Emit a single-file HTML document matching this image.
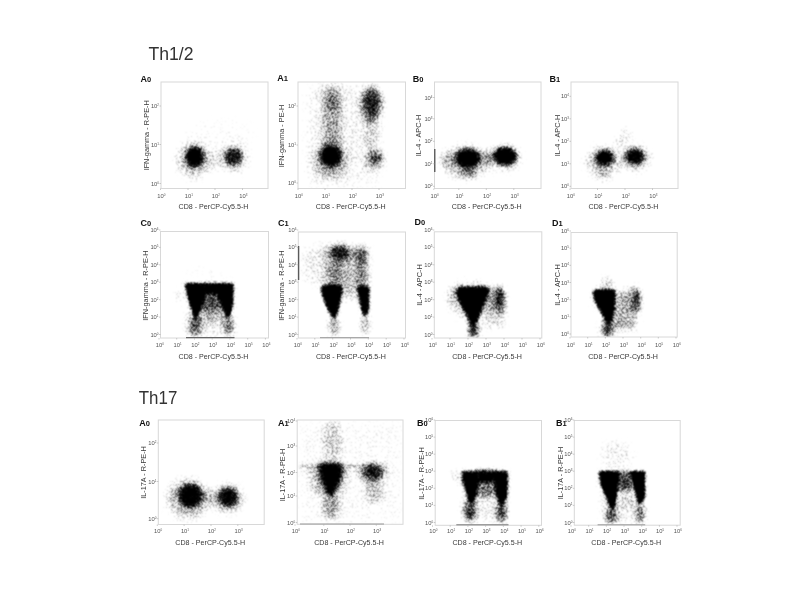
<!DOCTYPE html>
<html><head><meta charset="utf-8"><title>Th1/2 and Th17 flow cytometry</title>
<style>html,body{margin:0;padding:0;background:#fff;}svg{display:block;will-change:transform}</style></head>
<body><svg width="800" height="600" viewBox="0 0 800 600">
<defs><filter id="b05" x="-1" y="-1" width="3" height="3"><feGaussianBlur stdDeviation="0.5"/></filter><filter id="b1" x="-1" y="-1" width="3" height="3"><feGaussianBlur stdDeviation="1"/></filter><filter id="b15" x="-1" y="-1" width="3" height="3"><feGaussianBlur stdDeviation="1.5"/></filter><filter id="b2" x="-1" y="-1" width="3" height="3"><feGaussianBlur stdDeviation="2"/></filter><filter id="b25" x="-1" y="-1" width="3" height="3"><feGaussianBlur stdDeviation="2.5"/></filter><filter id="b3" x="-1" y="-1" width="3" height="3"><feGaussianBlur stdDeviation="3"/></filter><filter id="b4" x="-1" y="-1" width="3" height="3"><feGaussianBlur stdDeviation="4"/></filter><filter id="b5" x="-1" y="-1" width="3" height="3"><feGaussianBlur stdDeviation="5"/></filter><filter id="b6" x="-1" y="-1" width="3" height="3"><feGaussianBlur stdDeviation="6"/></filter><filter id="b8" x="-1" y="-1" width="3" height="3"><feGaussianBlur stdDeviation="8"/></filter><filter id="st0" x="161.5" y="82.5" width="106.0" height="105.5" filterUnits="userSpaceOnUse" color-interpolation-filters="sRGB"><feTurbulence type="fractalNoise" baseFrequency="0.8" numOctaves="2" seed="2" result="t"/><feColorMatrix in="t" type="matrix" values="0 0 0 0 0 0 0 0 0 0 0 0 0 0 0 1 0 0 0 0" result="n"/><feComponentTransfer in="n" result="nu"><feFuncA type="table" tableValues="0 0 0 0 0.003 0.013 0.046 0.110 0.209 0.328 0.476 0.673 0.801 0.888 0.952 0.985 0.996 1 1 1 1"/></feComponentTransfer><feComposite in="SourceAlpha" in2="nu" operator="arithmetic" k1="0" k2="1.85" k3="-1" k4="0" result="x"/><feComponentTransfer in="x" result="y"><feFuncA type="linear" slope="1.25" intercept="0"/></feComponentTransfer><feConvolveMatrix in="y" order="3" kernelMatrix="1 2 1 2 5 2 1 2 1" edgeMode="none"/></filter><filter id="st1" x="298.5" y="82.5" width="106.5" height="105.5" filterUnits="userSpaceOnUse" color-interpolation-filters="sRGB"><feTurbulence type="fractalNoise" baseFrequency="0.8" numOctaves="2" seed="3" result="t"/><feColorMatrix in="t" type="matrix" values="0 0 0 0 0 0 0 0 0 0 0 0 0 0 0 1 0 0 0 0" result="n"/><feComponentTransfer in="n" result="nu"><feFuncA type="table" tableValues="0 0 0 0 0.003 0.013 0.046 0.110 0.209 0.328 0.476 0.673 0.801 0.888 0.952 0.985 0.996 1 1 1 1"/></feComponentTransfer><feComposite in="SourceAlpha" in2="nu" operator="arithmetic" k1="0" k2="1.85" k3="-1" k4="0" result="x"/><feComponentTransfer in="x" result="y"><feFuncA type="linear" slope="1.25" intercept="0"/></feComponentTransfer><feConvolveMatrix in="y" order="3" kernelMatrix="1 2 1 2 5 2 1 2 1" edgeMode="none"/></filter><filter id="st2" x="435.0" y="82.5" width="105.5" height="105.5" filterUnits="userSpaceOnUse" color-interpolation-filters="sRGB"><feTurbulence type="fractalNoise" baseFrequency="0.8" numOctaves="2" seed="4" result="t"/><feColorMatrix in="t" type="matrix" values="0 0 0 0 0 0 0 0 0 0 0 0 0 0 0 1 0 0 0 0" result="n"/><feComponentTransfer in="n" result="nu"><feFuncA type="table" tableValues="0 0 0 0 0.003 0.013 0.046 0.110 0.209 0.328 0.476 0.673 0.801 0.888 0.952 0.985 0.996 1 1 1 1"/></feComponentTransfer><feComposite in="SourceAlpha" in2="nu" operator="arithmetic" k1="0" k2="1.85" k3="-1" k4="0" result="x"/><feComponentTransfer in="x" result="y"><feFuncA type="linear" slope="1.25" intercept="0"/></feComponentTransfer><feConvolveMatrix in="y" order="3" kernelMatrix="1 2 1 2 5 2 1 2 1" edgeMode="none"/></filter><filter id="st3" x="571.5" y="82.5" width="106.0" height="105.5" filterUnits="userSpaceOnUse" color-interpolation-filters="sRGB"><feTurbulence type="fractalNoise" baseFrequency="0.8" numOctaves="2" seed="5" result="t"/><feColorMatrix in="t" type="matrix" values="0 0 0 0 0 0 0 0 0 0 0 0 0 0 0 1 0 0 0 0" result="n"/><feComponentTransfer in="n" result="nu"><feFuncA type="table" tableValues="0 0 0 0 0.003 0.013 0.046 0.110 0.209 0.328 0.476 0.673 0.801 0.888 0.952 0.985 0.996 1 1 1 1"/></feComponentTransfer><feComposite in="SourceAlpha" in2="nu" operator="arithmetic" k1="0" k2="1.85" k3="-1" k4="0" result="x"/><feComponentTransfer in="x" result="y"><feFuncA type="linear" slope="1.25" intercept="0"/></feComponentTransfer><feConvolveMatrix in="y" order="3" kernelMatrix="1 2 1 2 5 2 1 2 1" edgeMode="none"/></filter><filter id="st4" x="161.0" y="232.0" width="107.0" height="105.5" filterUnits="userSpaceOnUse" color-interpolation-filters="sRGB"><feTurbulence type="fractalNoise" baseFrequency="0.8" numOctaves="2" seed="6" result="t"/><feColorMatrix in="t" type="matrix" values="0 0 0 0 0 0 0 0 0 0 0 0 0 0 0 1 0 0 0 0" result="n"/><feComponentTransfer in="n" result="nu"><feFuncA type="table" tableValues="0 0 0 0 0.003 0.013 0.046 0.110 0.209 0.328 0.476 0.673 0.801 0.888 0.952 0.985 0.996 1 1 1 1"/></feComponentTransfer><feComposite in="SourceAlpha" in2="nu" operator="arithmetic" k1="0" k2="1.85" k3="-1" k4="0" result="x"/><feComponentTransfer in="x" result="y"><feFuncA type="linear" slope="1.25" intercept="0"/></feComponentTransfer><feConvolveMatrix in="y" order="3" kernelMatrix="1 2 1 2 5 2 1 2 1" edgeMode="none"/></filter><filter id="st5" x="298.8" y="232.5" width="106.19999999999999" height="105.0" filterUnits="userSpaceOnUse" color-interpolation-filters="sRGB"><feTurbulence type="fractalNoise" baseFrequency="0.8" numOctaves="2" seed="7" result="t"/><feColorMatrix in="t" type="matrix" values="0 0 0 0 0 0 0 0 0 0 0 0 0 0 0 1 0 0 0 0" result="n"/><feComponentTransfer in="n" result="nu"><feFuncA type="table" tableValues="0 0 0 0 0.003 0.013 0.046 0.110 0.209 0.328 0.476 0.673 0.801 0.888 0.952 0.985 0.996 1 1 1 1"/></feComponentTransfer><feComposite in="SourceAlpha" in2="nu" operator="arithmetic" k1="0" k2="1.85" k3="-1" k4="0" result="x"/><feComponentTransfer in="x" result="y"><feFuncA type="linear" slope="1.25" intercept="0"/></feComponentTransfer><feConvolveMatrix in="y" order="3" kernelMatrix="1 2 1 2 5 2 1 2 1" edgeMode="none"/></filter><filter id="st6" x="434.8" y="232.3" width="106.49999999999994" height="105.19999999999999" filterUnits="userSpaceOnUse" color-interpolation-filters="sRGB"><feTurbulence type="fractalNoise" baseFrequency="0.8" numOctaves="2" seed="8" result="t"/><feColorMatrix in="t" type="matrix" values="0 0 0 0 0 0 0 0 0 0 0 0 0 0 0 1 0 0 0 0" result="n"/><feComponentTransfer in="n" result="nu"><feFuncA type="table" tableValues="0 0 0 0 0.003 0.013 0.046 0.110 0.209 0.328 0.476 0.673 0.801 0.888 0.952 0.985 0.996 1 1 1 1"/></feComponentTransfer><feComposite in="SourceAlpha" in2="nu" operator="arithmetic" k1="0" k2="1.85" k3="-1" k4="0" result="x"/><feComponentTransfer in="x" result="y"><feFuncA type="linear" slope="1.25" intercept="0"/></feComponentTransfer><feConvolveMatrix in="y" order="3" kernelMatrix="1 2 1 2 5 2 1 2 1" edgeMode="none"/></filter><filter id="st7" x="571.5" y="233.0" width="105.20000000000005" height="103.5" filterUnits="userSpaceOnUse" color-interpolation-filters="sRGB"><feTurbulence type="fractalNoise" baseFrequency="0.8" numOctaves="2" seed="9" result="t"/><feColorMatrix in="t" type="matrix" values="0 0 0 0 0 0 0 0 0 0 0 0 0 0 0 1 0 0 0 0" result="n"/><feComponentTransfer in="n" result="nu"><feFuncA type="table" tableValues="0 0 0 0 0.003 0.013 0.046 0.110 0.209 0.328 0.476 0.673 0.801 0.888 0.952 0.985 0.996 1 1 1 1"/></feComponentTransfer><feComposite in="SourceAlpha" in2="nu" operator="arithmetic" k1="0" k2="1.85" k3="-1" k4="0" result="x"/><feComponentTransfer in="x" result="y"><feFuncA type="linear" slope="1.25" intercept="0"/></feComponentTransfer><feConvolveMatrix in="y" order="3" kernelMatrix="1 2 1 2 5 2 1 2 1" edgeMode="none"/></filter><filter id="st8" x="158.8" y="420.5" width="104.89999999999998" height="103.5" filterUnits="userSpaceOnUse" color-interpolation-filters="sRGB"><feTurbulence type="fractalNoise" baseFrequency="0.8" numOctaves="2" seed="10" result="t"/><feColorMatrix in="t" type="matrix" values="0 0 0 0 0 0 0 0 0 0 0 0 0 0 0 1 0 0 0 0" result="n"/><feComponentTransfer in="n" result="nu"><feFuncA type="table" tableValues="0 0 0 0 0.003 0.013 0.046 0.110 0.209 0.328 0.476 0.673 0.801 0.888 0.952 0.985 0.996 1 1 1 1"/></feComponentTransfer><feComposite in="SourceAlpha" in2="nu" operator="arithmetic" k1="0" k2="1.85" k3="-1" k4="0" result="x"/><feComponentTransfer in="x" result="y"><feFuncA type="linear" slope="1.25" intercept="0"/></feComponentTransfer><feConvolveMatrix in="y" order="3" kernelMatrix="1 2 1 2 5 2 1 2 1" edgeMode="none"/></filter><filter id="st9" x="297.7" y="420.5" width="104.80000000000001" height="103.29999999999995" filterUnits="userSpaceOnUse" color-interpolation-filters="sRGB"><feTurbulence type="fractalNoise" baseFrequency="0.8" numOctaves="2" seed="11" result="t"/><feColorMatrix in="t" type="matrix" values="0 0 0 0 0 0 0 0 0 0 0 0 0 0 0 1 0 0 0 0" result="n"/><feComponentTransfer in="n" result="nu"><feFuncA type="table" tableValues="0 0 0 0 0.003 0.013 0.046 0.110 0.209 0.328 0.476 0.673 0.801 0.888 0.952 0.985 0.996 1 1 1 1"/></feComponentTransfer><feComposite in="SourceAlpha" in2="nu" operator="arithmetic" k1="0" k2="1.85" k3="-1" k4="0" result="x"/><feComponentTransfer in="x" result="y"><feFuncA type="linear" slope="1.25" intercept="0"/></feComponentTransfer><feConvolveMatrix in="y" order="3" kernelMatrix="1 2 1 2 5 2 1 2 1" edgeMode="none"/></filter><filter id="st10" x="435.7" y="421.0" width="105.30000000000001" height="103.79999999999995" filterUnits="userSpaceOnUse" color-interpolation-filters="sRGB"><feTurbulence type="fractalNoise" baseFrequency="0.8" numOctaves="2" seed="12" result="t"/><feColorMatrix in="t" type="matrix" values="0 0 0 0 0 0 0 0 0 0 0 0 0 0 0 1 0 0 0 0" result="n"/><feComponentTransfer in="n" result="nu"><feFuncA type="table" tableValues="0 0 0 0 0.003 0.013 0.046 0.110 0.209 0.328 0.476 0.673 0.801 0.888 0.952 0.985 0.996 1 1 1 1"/></feComponentTransfer><feComposite in="SourceAlpha" in2="nu" operator="arithmetic" k1="0" k2="1.85" k3="-1" k4="0" result="x"/><feComponentTransfer in="x" result="y"><feFuncA type="linear" slope="1.25" intercept="0"/></feComponentTransfer><feConvolveMatrix in="y" order="3" kernelMatrix="1 2 1 2 5 2 1 2 1" edgeMode="none"/></filter><filter id="st11" x="574.8" y="421.0" width="104.90000000000009" height="103.70000000000005" filterUnits="userSpaceOnUse" color-interpolation-filters="sRGB"><feTurbulence type="fractalNoise" baseFrequency="0.8" numOctaves="2" seed="13" result="t"/><feColorMatrix in="t" type="matrix" values="0 0 0 0 0 0 0 0 0 0 0 0 0 0 0 1 0 0 0 0" result="n"/><feComponentTransfer in="n" result="nu"><feFuncA type="table" tableValues="0 0 0 0 0.003 0.013 0.046 0.110 0.209 0.328 0.476 0.673 0.801 0.888 0.952 0.985 0.996 1 1 1 1"/></feComponentTransfer><feComposite in="SourceAlpha" in2="nu" operator="arithmetic" k1="0" k2="1.85" k3="-1" k4="0" result="x"/><feComponentTransfer in="x" result="y"><feFuncA type="linear" slope="1.25" intercept="0"/></feComponentTransfer><feConvolveMatrix in="y" order="3" kernelMatrix="1 2 1 2 5 2 1 2 1" edgeMode="none"/></filter></defs>
<rect width="800" height="600" fill="#fff"/>
<text x="148.5" y="60" font-family="Liberation Sans, Arial, sans-serif" font-size="18" fill="#333" textLength="45" lengthAdjust="spacingAndGlyphs">Th1/2</text><text x="138.8" y="404" font-family="Liberation Sans, Arial, sans-serif" font-size="17.5" fill="#333" textLength="38.5" lengthAdjust="spacingAndGlyphs">Th17</text>
<g filter="url(#st0)"><ellipse cx="220" cy="135" rx="35" ry="16" fill-opacity="0.05" filter="url(#b5)"/><ellipse cx="193.5" cy="160" rx="17" ry="18" fill-opacity="0.3" filter="url(#b4)"/><ellipse cx="194.5" cy="157" rx="9" ry="10.5" fill-opacity="0.95" filter="url(#b2)"/><ellipse cx="234" cy="158" rx="14" ry="14" fill-opacity="0.3" filter="url(#b4)"/><ellipse cx="233.5" cy="157" rx="8.5" ry="8.5" fill-opacity="0.68" filter="url(#b2)"/><ellipse cx="214" cy="160" rx="12" ry="9" fill-opacity="0.15" filter="url(#b4)"/></g>
<rect x="161" y="82" width="107" height="106.5" fill="none" stroke="#d8d8d8" stroke-width="1"/>
<path d="M160.5 188.5v1.5 M188.0 188.5v1.5 M215.0 188.5v1.5 M242.5 188.5v1.5 M161 106.0h-1.5 M161 144.5h-1.5 M161 183.5h-1.5" stroke="#aaa" stroke-width="0.6" fill="none"/>
<text x="140.5" y="81.5" font-family="Liberation Sans, Arial, sans-serif" font-weight="bold" font-size="9" fill="#111">A<tspan font-size="7.5" font-weight="bold">0</tspan></text>
<text transform="translate(146.5 135.3) rotate(-90)" x="0" y="2.6" text-anchor="middle" font-family="Liberation Sans, Arial, sans-serif" font-size="7.3" fill="#383838">IFN-gamma - R-PE-H</text>
<text x="213.5" y="209" text-anchor="middle" font-family="Liberation Sans, Arial, sans-serif" font-size="7.1" fill="#383838">CD8 - PerCP-Cy5.5-H</text>
<text x="157.3" y="197.8" font-family="Liberation Sans, Arial, sans-serif" font-size="5.8" fill="#555">10<tspan font-size="3" dy="-2">0</tspan></text>
<text x="184.8" y="197.8" font-family="Liberation Sans, Arial, sans-serif" font-size="5.8" fill="#555">10<tspan font-size="3" dy="-2">1</tspan></text>
<text x="211.8" y="197.8" font-family="Liberation Sans, Arial, sans-serif" font-size="5.8" fill="#555">10<tspan font-size="3" dy="-2">2</tspan></text>
<text x="239.3" y="197.8" font-family="Liberation Sans, Arial, sans-serif" font-size="5.8" fill="#555">10<tspan font-size="3" dy="-2">3</tspan></text>
<text x="159.0" y="108.0" text-anchor="end" font-family="Liberation Sans, Arial, sans-serif" font-size="5.8" fill="#555">10<tspan font-size="3" dy="-2">2</tspan></text>
<text x="159.0" y="146.5" text-anchor="end" font-family="Liberation Sans, Arial, sans-serif" font-size="5.8" fill="#555">10<tspan font-size="3" dy="-2">1</tspan></text>
<text x="159.0" y="185.5" text-anchor="end" font-family="Liberation Sans, Arial, sans-serif" font-size="5.8" fill="#555">10<tspan font-size="3" dy="-2">0</tspan></text>
<g filter="url(#st1)"><rect x="305" y="84" width="77" height="102" fill-opacity="0.08" filter="url(#b5)"/><rect x="312" y="84" width="50" height="102" fill-opacity="0.05" filter="url(#b5)"/><ellipse cx="332" cy="125" rx="10" ry="35" fill-opacity="0.3" filter="url(#b3)"/><ellipse cx="332.5" cy="97" rx="11" ry="14" fill-opacity="0.22" filter="url(#b3)"/><ellipse cx="371.5" cy="104" rx="11.5" ry="18" fill-opacity="0.5" filter="url(#b3)"/><ellipse cx="372" cy="103" rx="6.5" ry="11" fill-opacity="0.4" filter="url(#b2)"/><ellipse cx="371" cy="130" rx="8" ry="20" fill-opacity="0.22" filter="url(#b3)"/><ellipse cx="374" cy="160" rx="11" ry="11" fill-opacity="0.3" filter="url(#b3)"/><ellipse cx="375.5" cy="157.5" rx="6" ry="6" fill-opacity="0.45" filter="url(#b2)"/><ellipse cx="330.5" cy="160" rx="17" ry="18" fill-opacity="0.35" filter="url(#b4)"/><ellipse cx="330.8" cy="156.3" rx="10" ry="10" fill-opacity="1" filter="url(#b2)"/></g>
<rect x="298" y="82" width="107.5" height="106.5" fill="none" stroke="#d8d8d8" stroke-width="1"/>
<path d="M298.0 188.5v1.5 M325.0 188.5v1.5 M352.0 188.5v1.5 M379.0 188.5v1.5 M298 106.0h-1.5 M298 145.0h-1.5 M298 183.0h-1.5" stroke="#aaa" stroke-width="0.6" fill="none"/>
<text x="277.2" y="81.4" font-family="Liberation Sans, Arial, sans-serif" font-weight="bold" font-size="9" fill="#111">A<tspan font-size="7.5" font-weight="bold">1</tspan></text>
<text transform="translate(281.8 136) rotate(-90)" x="0" y="2.6" text-anchor="middle" font-family="Liberation Sans, Arial, sans-serif" font-size="7.3" fill="#383838">IFN-gamma - PE-H</text>
<text x="350.75" y="209" text-anchor="middle" font-family="Liberation Sans, Arial, sans-serif" font-size="7.1" fill="#383838">CD8 - PerCP-Cy5.5-H</text>
<text x="294.8" y="197.8" font-family="Liberation Sans, Arial, sans-serif" font-size="5.8" fill="#555">10<tspan font-size="3" dy="-2">0</tspan></text>
<text x="321.8" y="197.8" font-family="Liberation Sans, Arial, sans-serif" font-size="5.8" fill="#555">10<tspan font-size="3" dy="-2">1</tspan></text>
<text x="348.8" y="197.8" font-family="Liberation Sans, Arial, sans-serif" font-size="5.8" fill="#555">10<tspan font-size="3" dy="-2">2</tspan></text>
<text x="375.8" y="197.8" font-family="Liberation Sans, Arial, sans-serif" font-size="5.8" fill="#555">10<tspan font-size="3" dy="-2">3</tspan></text>
<text x="296.0" y="108.0" text-anchor="end" font-family="Liberation Sans, Arial, sans-serif" font-size="5.8" fill="#555">10<tspan font-size="3" dy="-2">2</tspan></text>
<text x="296.0" y="147.0" text-anchor="end" font-family="Liberation Sans, Arial, sans-serif" font-size="5.8" fill="#555">10<tspan font-size="3" dy="-2">1</tspan></text>
<text x="296.0" y="185.0" text-anchor="end" font-family="Liberation Sans, Arial, sans-serif" font-size="5.8" fill="#555">10<tspan font-size="3" dy="-2">0</tspan></text>
<g filter="url(#st2)"><ellipse cx="466" cy="162" rx="26" ry="16" fill-opacity="0.3" filter="url(#b4)"/><ellipse cx="467.7" cy="158.3" rx="12" ry="9.5" fill-opacity="1" filter="url(#b2)"/><ellipse cx="505" cy="158" rx="16" ry="13" fill-opacity="0.3" filter="url(#b4)"/><ellipse cx="505" cy="156" rx="11.5" ry="8.7" fill-opacity="1" filter="url(#b2)"/><ellipse cx="486" cy="158" rx="9" ry="5" fill-opacity="0.3" filter="url(#b3)"/><ellipse cx="468" cy="172" rx="9" ry="7" fill-opacity="0.3" filter="url(#b3)"/><ellipse cx="450" cy="160" rx="8" ry="6" fill-opacity="0.2" filter="url(#b3)"/></g>
<rect x="434.5" y="82" width="106.5" height="106.5" fill="none" stroke="#d8d8d8" stroke-width="1"/>
<path d="M434.8,149V172" stroke="#444" stroke-width="1.2"/>
<path d="M433.8 188.5v1.5 M458.8 188.5v1.5 M486.3 188.5v1.5 M513.8 188.5v1.5 M434.5 97.5h-1.5 M434.5 118.8h-1.5 M434.5 141.3h-1.5 M434.5 163.8h-1.5 M434.5 186.3h-1.5" stroke="#aaa" stroke-width="0.6" fill="none"/>
<text x="412.8" y="81.5" font-family="Liberation Sans, Arial, sans-serif" font-weight="bold" font-size="9" fill="#111">B<tspan font-size="7.5" font-weight="bold">0</tspan></text>
<text transform="translate(418.5 135.5) rotate(-90)" x="0" y="2.6" text-anchor="middle" font-family="Liberation Sans, Arial, sans-serif" font-size="7.3" fill="#383838">IL-4 - APC-H</text>
<text x="486.75" y="209" text-anchor="middle" font-family="Liberation Sans, Arial, sans-serif" font-size="7.1" fill="#383838">CD8 - PerCP-Cy5.5-H</text>
<text x="430.6" y="197.8" font-family="Liberation Sans, Arial, sans-serif" font-size="5.8" fill="#555">10<tspan font-size="3" dy="-2">0</tspan></text>
<text x="455.6" y="197.8" font-family="Liberation Sans, Arial, sans-serif" font-size="5.8" fill="#555">10<tspan font-size="3" dy="-2">1</tspan></text>
<text x="483.1" y="197.8" font-family="Liberation Sans, Arial, sans-serif" font-size="5.8" fill="#555">10<tspan font-size="3" dy="-2">2</tspan></text>
<text x="510.6" y="197.8" font-family="Liberation Sans, Arial, sans-serif" font-size="5.8" fill="#555">10<tspan font-size="3" dy="-2">3</tspan></text>
<text x="432.5" y="99.5" text-anchor="end" font-family="Liberation Sans, Arial, sans-serif" font-size="5.8" fill="#555">10<tspan font-size="3" dy="-2">4</tspan></text>
<text x="432.5" y="120.8" text-anchor="end" font-family="Liberation Sans, Arial, sans-serif" font-size="5.8" fill="#555">10<tspan font-size="3" dy="-2">3</tspan></text>
<text x="432.5" y="143.3" text-anchor="end" font-family="Liberation Sans, Arial, sans-serif" font-size="5.8" fill="#555">10<tspan font-size="3" dy="-2">2</tspan></text>
<text x="432.5" y="165.8" text-anchor="end" font-family="Liberation Sans, Arial, sans-serif" font-size="5.8" fill="#555">10<tspan font-size="3" dy="-2">1</tspan></text>
<text x="432.5" y="188.3" text-anchor="end" font-family="Liberation Sans, Arial, sans-serif" font-size="5.8" fill="#555">10<tspan font-size="3" dy="-2">0</tspan></text>
<g filter="url(#st3)"><ellipse cx="603" cy="162" rx="17" ry="15" fill-opacity="0.3" filter="url(#b4)"/><ellipse cx="604.7" cy="157.7" rx="9" ry="7.5" fill-opacity="1" filter="url(#b25)"/><ellipse cx="635" cy="158" rx="15" ry="13" fill-opacity="0.3" filter="url(#b4)"/><ellipse cx="635" cy="156.4" rx="9.5" ry="7.5" fill-opacity="0.9" filter="url(#b25)"/><ellipse cx="623" cy="138" rx="6" ry="12" fill-opacity="0.16" filter="url(#b3)" transform="rotate(40 623 138)"/><ellipse cx="603" cy="175" rx="5" ry="7" fill-opacity="0.2" filter="url(#b3)"/></g>
<rect x="571" y="82" width="107" height="106.5" fill="none" stroke="#d8d8d8" stroke-width="1"/>
<path d="M570.0 188.5v1.5 M597.5 188.5v1.5 M625.0 188.5v1.5 M652.5 188.5v1.5 M571 96.3h-1.5 M571 118.8h-1.5 M571 141.3h-1.5 M571 163.8h-1.5 M571 186.3h-1.5" stroke="#aaa" stroke-width="0.6" fill="none"/>
<text x="549.5" y="81.5" font-family="Liberation Sans, Arial, sans-serif" font-weight="bold" font-size="9" fill="#111">B<tspan font-size="7.5" font-weight="bold">1</tspan></text>
<text transform="translate(557.5 135.5) rotate(-90)" x="0" y="2.6" text-anchor="middle" font-family="Liberation Sans, Arial, sans-serif" font-size="7.3" fill="#383838">IL-4 - APC-H</text>
<text x="623.5" y="209" text-anchor="middle" font-family="Liberation Sans, Arial, sans-serif" font-size="7.1" fill="#383838">CD8 - PerCP-Cy5.5-H</text>
<text x="566.8" y="197.8" font-family="Liberation Sans, Arial, sans-serif" font-size="5.8" fill="#555">10<tspan font-size="3" dy="-2">0</tspan></text>
<text x="594.3" y="197.8" font-family="Liberation Sans, Arial, sans-serif" font-size="5.8" fill="#555">10<tspan font-size="3" dy="-2">1</tspan></text>
<text x="621.8" y="197.8" font-family="Liberation Sans, Arial, sans-serif" font-size="5.8" fill="#555">10<tspan font-size="3" dy="-2">2</tspan></text>
<text x="649.3" y="197.8" font-family="Liberation Sans, Arial, sans-serif" font-size="5.8" fill="#555">10<tspan font-size="3" dy="-2">3</tspan></text>
<text x="569.0" y="98.3" text-anchor="end" font-family="Liberation Sans, Arial, sans-serif" font-size="5.8" fill="#555">10<tspan font-size="3" dy="-2">4</tspan></text>
<text x="569.0" y="120.8" text-anchor="end" font-family="Liberation Sans, Arial, sans-serif" font-size="5.8" fill="#555">10<tspan font-size="3" dy="-2">3</tspan></text>
<text x="569.0" y="143.3" text-anchor="end" font-family="Liberation Sans, Arial, sans-serif" font-size="5.8" fill="#555">10<tspan font-size="3" dy="-2">2</tspan></text>
<text x="569.0" y="165.8" text-anchor="end" font-family="Liberation Sans, Arial, sans-serif" font-size="5.8" fill="#555">10<tspan font-size="3" dy="-2">1</tspan></text>
<text x="569.0" y="188.3" text-anchor="end" font-family="Liberation Sans, Arial, sans-serif" font-size="5.8" fill="#555">10<tspan font-size="3" dy="-2">0</tspan></text>
<g filter="url(#st4)"><path d="M182,282 L236,282 L235,300 L232,336 L188,336 L186,300 Z" fill-opacity="0.16" filter="url(#b3)"/><path d="M204,292 L217,292 L223,309 L201,309 Z" fill-opacity="0.55" filter="url(#b3)"/><path d="M201,305 L223,305 L226,322 L199,322 Z" fill-opacity="0.25" filter="url(#b3)"/><ellipse cx="195" cy="326" rx="7" ry="11" fill-opacity="0.5" filter="url(#b3)"/><ellipse cx="229" cy="326" rx="5" ry="10" fill-opacity="0.5" filter="url(#b3)"/><ellipse cx="180" cy="295" rx="4" ry="8" fill-opacity="0.15" filter="url(#b3)"/><path d="M185,285 Q185,283.2 187,283.2 L205.6,283.2 L205.6,295 L203.1,303.75 L200,311.25 L196.9,318.1 L195.6,319.6 L192.5,312.5 L189.4,303.75 L186.9,293.75 Z" fill-opacity="1" filter="url(#b1)"/><path d="M215.6,283.2 L232.5,283.2 Q233.9,283.2 233.8,285 L233.5,295 L232.5,307.5 L230,315 L227.75,319.6 L225,313.75 L221.25,305 L217.5,296.25 L215.6,288.75 Z" fill-opacity="1" filter="url(#b1)"/><rect x="204" y="283.2" width="13" height="11" fill-opacity="1" filter="url(#b15)"/><ellipse cx="209" cy="272" rx="25" ry="5" fill-opacity="0.05" filter="url(#b3)"/></g>
<rect x="160.5" y="231.5" width="108.0" height="106.5" fill="none" stroke="#d8d8d8" stroke-width="1"/>
<path d="M186,337.6H234.5" stroke="#666" stroke-width="1.2"/>
<path d="M159.0 338v1.5 M176.7 338v1.5 M194.5 338v1.5 M212.2 338v1.5 M229.9 338v1.5 M247.7 338v1.5 M265.4 338v1.5 M160.5 334.5h-1.5 M160.5 317.1h-1.5 M160.5 299.7h-1.5 M160.5 282.2h-1.5 M160.5 264.8h-1.5 M160.5 247.4h-1.5 M160.5 230.0h-1.5" stroke="#aaa" stroke-width="0.6" fill="none"/>
<text x="140.5" y="225.5" font-family="Liberation Sans, Arial, sans-serif" font-weight="bold" font-size="9" fill="#111">C<tspan font-size="7.5" font-weight="bold">0</tspan></text>
<text transform="translate(145.6 285.6) rotate(-90)" x="0" y="2.6" text-anchor="middle" font-family="Liberation Sans, Arial, sans-serif" font-size="7.3" fill="#383838">IFN-gamma - R-PE-H</text>
<text x="213.5" y="359" text-anchor="middle" font-family="Liberation Sans, Arial, sans-serif" font-size="7.1" fill="#383838">CD8 - PerCP-Cy5.5-H</text>
<text x="155.8" y="347.3" font-family="Liberation Sans, Arial, sans-serif" font-size="5.8" fill="#555">10<tspan font-size="3" dy="-2">0</tspan></text>
<text x="173.5" y="347.3" font-family="Liberation Sans, Arial, sans-serif" font-size="5.8" fill="#555">10<tspan font-size="3" dy="-2">1</tspan></text>
<text x="191.3" y="347.3" font-family="Liberation Sans, Arial, sans-serif" font-size="5.8" fill="#555">10<tspan font-size="3" dy="-2">2</tspan></text>
<text x="209.0" y="347.3" font-family="Liberation Sans, Arial, sans-serif" font-size="5.8" fill="#555">10<tspan font-size="3" dy="-2">3</tspan></text>
<text x="226.7" y="347.3" font-family="Liberation Sans, Arial, sans-serif" font-size="5.8" fill="#555">10<tspan font-size="3" dy="-2">4</tspan></text>
<text x="244.5" y="347.3" font-family="Liberation Sans, Arial, sans-serif" font-size="5.8" fill="#555">10<tspan font-size="3" dy="-2">5</tspan></text>
<text x="262.2" y="347.3" font-family="Liberation Sans, Arial, sans-serif" font-size="5.8" fill="#555">10<tspan font-size="3" dy="-2">6</tspan></text>
<text x="158.5" y="336.5" text-anchor="end" font-family="Liberation Sans, Arial, sans-serif" font-size="5.8" fill="#555">10<tspan font-size="3" dy="-2">0</tspan></text>
<text x="158.5" y="319.1" text-anchor="end" font-family="Liberation Sans, Arial, sans-serif" font-size="5.8" fill="#555">10<tspan font-size="3" dy="-2">1</tspan></text>
<text x="158.5" y="301.7" text-anchor="end" font-family="Liberation Sans, Arial, sans-serif" font-size="5.8" fill="#555">10<tspan font-size="3" dy="-2">2</tspan></text>
<text x="158.5" y="284.2" text-anchor="end" font-family="Liberation Sans, Arial, sans-serif" font-size="5.8" fill="#555">10<tspan font-size="3" dy="-2">3</tspan></text>
<text x="158.5" y="266.8" text-anchor="end" font-family="Liberation Sans, Arial, sans-serif" font-size="5.8" fill="#555">10<tspan font-size="3" dy="-2">4</tspan></text>
<text x="158.5" y="249.4" text-anchor="end" font-family="Liberation Sans, Arial, sans-serif" font-size="5.8" fill="#555">10<tspan font-size="3" dy="-2">5</tspan></text>
<text x="158.5" y="232.0" text-anchor="end" font-family="Liberation Sans, Arial, sans-serif" font-size="5.8" fill="#555">10<tspan font-size="3" dy="-2">6</tspan></text>
<g filter="url(#st5)"><path d="M302,250 L318,245 L368,245 L369,286 L321,286 L303,280 Z" fill-opacity="0.16" filter="url(#b4)"/><path d="M322,247 L368,247 L369,290 L324,290 Z" fill-opacity="0.2" filter="url(#b3)"/><ellipse cx="340" cy="253" rx="10" ry="8" fill-opacity="0.7" filter="url(#b3)"/><ellipse cx="361.5" cy="257" rx="5.5" ry="9" fill-opacity="0.5" filter="url(#b3)"/><ellipse cx="336" cy="274" rx="6" ry="12" fill-opacity="0.3" filter="url(#b3)"/><ellipse cx="362" cy="276" rx="5" ry="10" fill-opacity="0.3" filter="url(#b3)"/><path d="M343,285 L357,285 L358,300 L342,300 Z" fill-opacity="0.25" filter="url(#b3)"/><path d="M320.5,290 Q321,284.5 327,284.5 L337,284.5 Q343,284.5 342.5,290 L341.2,298 L338.5,311 L334.5,319.5 L328,311 L323.3,299 Z" fill-opacity="1" filter="url(#b15)"/><path d="M357,289 Q357.5,285.5 361,285.5 L366,285.5 Q369.8,285.5 369.6,290 L369,311 L364.8,317 L361.5,311 Z" fill-opacity="1" filter="url(#b15)"/><ellipse cx="334" cy="326" rx="5" ry="11" fill-opacity="0.45" filter="url(#b3)"/><ellipse cx="365" cy="324" rx="4" ry="10" fill-opacity="0.45" filter="url(#b3)"/></g>
<rect x="298.3" y="232" width="107.19999999999999" height="106" fill="none" stroke="#d8d8d8" stroke-width="1"/>
<path d="M298.6,246V280" stroke="#5a5a5a" stroke-width="1.4"/><path d="M320,337.7H369" stroke="#999" stroke-width="1"/>
<path d="M297.0 338v1.5 M314.8 338v1.5 M332.7 338v1.5 M350.5 338v1.5 M368.3 338v1.5 M386.2 338v1.5 M404.0 338v1.5 M298.3 334.5h-1.5 M298.3 317.1h-1.5 M298.3 299.7h-1.5 M298.3 282.2h-1.5 M298.3 264.8h-1.5 M298.3 247.4h-1.5 M298.3 230.0h-1.5" stroke="#aaa" stroke-width="0.6" fill="none"/>
<text x="278" y="225.5" font-family="Liberation Sans, Arial, sans-serif" font-weight="bold" font-size="9" fill="#111">C<tspan font-size="7.5" font-weight="bold">1</tspan></text>
<text transform="translate(281 285.6) rotate(-90)" x="0" y="2.6" text-anchor="middle" font-family="Liberation Sans, Arial, sans-serif" font-size="7.3" fill="#383838">IFN-gamma - R-PE-H</text>
<text x="350.9" y="359" text-anchor="middle" font-family="Liberation Sans, Arial, sans-serif" font-size="7.1" fill="#383838">CD8 - PerCP-Cy5.5-H</text>
<text x="293.8" y="347.3" font-family="Liberation Sans, Arial, sans-serif" font-size="5.8" fill="#555">10<tspan font-size="3" dy="-2">0</tspan></text>
<text x="311.6" y="347.3" font-family="Liberation Sans, Arial, sans-serif" font-size="5.8" fill="#555">10<tspan font-size="3" dy="-2">1</tspan></text>
<text x="329.5" y="347.3" font-family="Liberation Sans, Arial, sans-serif" font-size="5.8" fill="#555">10<tspan font-size="3" dy="-2">2</tspan></text>
<text x="347.3" y="347.3" font-family="Liberation Sans, Arial, sans-serif" font-size="5.8" fill="#555">10<tspan font-size="3" dy="-2">3</tspan></text>
<text x="365.1" y="347.3" font-family="Liberation Sans, Arial, sans-serif" font-size="5.8" fill="#555">10<tspan font-size="3" dy="-2">4</tspan></text>
<text x="383.0" y="347.3" font-family="Liberation Sans, Arial, sans-serif" font-size="5.8" fill="#555">10<tspan font-size="3" dy="-2">5</tspan></text>
<text x="400.8" y="347.3" font-family="Liberation Sans, Arial, sans-serif" font-size="5.8" fill="#555">10<tspan font-size="3" dy="-2">6</tspan></text>
<text x="296.3" y="336.5" text-anchor="end" font-family="Liberation Sans, Arial, sans-serif" font-size="5.8" fill="#555">10<tspan font-size="3" dy="-2">0</tspan></text>
<text x="296.3" y="319.1" text-anchor="end" font-family="Liberation Sans, Arial, sans-serif" font-size="5.8" fill="#555">10<tspan font-size="3" dy="-2">1</tspan></text>
<text x="296.3" y="301.7" text-anchor="end" font-family="Liberation Sans, Arial, sans-serif" font-size="5.8" fill="#555">10<tspan font-size="3" dy="-2">2</tspan></text>
<text x="296.3" y="284.2" text-anchor="end" font-family="Liberation Sans, Arial, sans-serif" font-size="5.8" fill="#555">10<tspan font-size="3" dy="-2">3</tspan></text>
<text x="296.3" y="266.8" text-anchor="end" font-family="Liberation Sans, Arial, sans-serif" font-size="5.8" fill="#555">10<tspan font-size="3" dy="-2">4</tspan></text>
<text x="296.3" y="249.4" text-anchor="end" font-family="Liberation Sans, Arial, sans-serif" font-size="5.8" fill="#555">10<tspan font-size="3" dy="-2">5</tspan></text>
<text x="296.3" y="232.0" text-anchor="end" font-family="Liberation Sans, Arial, sans-serif" font-size="5.8" fill="#555">10<tspan font-size="3" dy="-2">6</tspan></text>
<g filter="url(#st6)"><ellipse cx="472" cy="300" rx="24" ry="19" fill-opacity="0.25" filter="url(#b4)"/><path d="M450,289 L457,287 L457,304 L450,300 Z" fill-opacity="0.3" filter="url(#b3)"/><ellipse cx="474" cy="331" rx="6" ry="8" fill-opacity="0.45" filter="url(#b3)"/><path d="M468.5,316 L478,316 L476.5,336 L469.5,336 Z" fill-opacity="0.55" filter="url(#b2)"/><path d="M484,288 L505,286 L505,328 L484,328 Z" fill-opacity="0.22" filter="url(#b3)"/><ellipse cx="499.5" cy="301" rx="5.5" ry="14" fill-opacity="0.55" filter="url(#b3)"/><ellipse cx="500" cy="297" rx="3.5" ry="8" fill-opacity="0.4" filter="url(#b2)"/><path d="M456,292 Q457,286.5 463,286.5 L486,286.5 Q489,287 488.5,292 L486,300 L481,312 L476,322 L473,326.5 L470,322 L465,312 L459,301 Z" fill-opacity="1" filter="url(#b15)"/></g>
<rect x="434.3" y="231.8" width="107.49999999999994" height="106.19999999999999" fill="none" stroke="#d8d8d8" stroke-width="1"/>
<path d="M432.0 338v1.5 M450.0 338v1.5 M468.0 338v1.5 M486.0 338v1.5 M504.0 338v1.5 M522.0 338v1.5 M540.0 338v1.5 M434.3 334.5h-1.5 M434.3 317.1h-1.5 M434.3 299.7h-1.5 M434.3 282.2h-1.5 M434.3 264.8h-1.5 M434.3 247.4h-1.5 M434.3 230.0h-1.5" stroke="#aaa" stroke-width="0.6" fill="none"/>
<text x="414.5" y="225.2" font-family="Liberation Sans, Arial, sans-serif" font-weight="bold" font-size="9" fill="#111">D<tspan font-size="7.5" font-weight="bold">0</tspan></text>
<text transform="translate(419 285) rotate(-90)" x="0" y="2.6" text-anchor="middle" font-family="Liberation Sans, Arial, sans-serif" font-size="7.3" fill="#383838">IL-4 - APC-H</text>
<text x="487.04999999999995" y="359" text-anchor="middle" font-family="Liberation Sans, Arial, sans-serif" font-size="7.1" fill="#383838">CD8 - PerCP-Cy5.5-H</text>
<text x="428.8" y="347.3" font-family="Liberation Sans, Arial, sans-serif" font-size="5.8" fill="#555">10<tspan font-size="3" dy="-2">0</tspan></text>
<text x="446.8" y="347.3" font-family="Liberation Sans, Arial, sans-serif" font-size="5.8" fill="#555">10<tspan font-size="3" dy="-2">1</tspan></text>
<text x="464.8" y="347.3" font-family="Liberation Sans, Arial, sans-serif" font-size="5.8" fill="#555">10<tspan font-size="3" dy="-2">2</tspan></text>
<text x="482.8" y="347.3" font-family="Liberation Sans, Arial, sans-serif" font-size="5.8" fill="#555">10<tspan font-size="3" dy="-2">3</tspan></text>
<text x="500.8" y="347.3" font-family="Liberation Sans, Arial, sans-serif" font-size="5.8" fill="#555">10<tspan font-size="3" dy="-2">4</tspan></text>
<text x="518.8" y="347.3" font-family="Liberation Sans, Arial, sans-serif" font-size="5.8" fill="#555">10<tspan font-size="3" dy="-2">5</tspan></text>
<text x="536.8" y="347.3" font-family="Liberation Sans, Arial, sans-serif" font-size="5.8" fill="#555">10<tspan font-size="3" dy="-2">6</tspan></text>
<text x="432.3" y="336.5" text-anchor="end" font-family="Liberation Sans, Arial, sans-serif" font-size="5.8" fill="#555">10<tspan font-size="3" dy="-2">0</tspan></text>
<text x="432.3" y="319.1" text-anchor="end" font-family="Liberation Sans, Arial, sans-serif" font-size="5.8" fill="#555">10<tspan font-size="3" dy="-2">1</tspan></text>
<text x="432.3" y="301.7" text-anchor="end" font-family="Liberation Sans, Arial, sans-serif" font-size="5.8" fill="#555">10<tspan font-size="3" dy="-2">2</tspan></text>
<text x="432.3" y="284.2" text-anchor="end" font-family="Liberation Sans, Arial, sans-serif" font-size="5.8" fill="#555">10<tspan font-size="3" dy="-2">3</tspan></text>
<text x="432.3" y="266.8" text-anchor="end" font-family="Liberation Sans, Arial, sans-serif" font-size="5.8" fill="#555">10<tspan font-size="3" dy="-2">4</tspan></text>
<text x="432.3" y="249.4" text-anchor="end" font-family="Liberation Sans, Arial, sans-serif" font-size="5.8" fill="#555">10<tspan font-size="3" dy="-2">5</tspan></text>
<text x="432.3" y="232.0" text-anchor="end" font-family="Liberation Sans, Arial, sans-serif" font-size="5.8" fill="#555">10<tspan font-size="3" dy="-2">6</tspan></text>
<g filter="url(#st7)"><ellipse cx="607" cy="284" rx="7" ry="6" fill-opacity="0.3" filter="url(#b3)"/><path d="M613,292 L630,289 L632,330 L611,330 Z" fill-opacity="0.36" filter="url(#b3)"/><ellipse cx="634.5" cy="301" rx="5.5" ry="15" fill-opacity="0.5" filter="url(#b3)"/><ellipse cx="637.5" cy="300" rx="3" ry="11" fill-opacity="0.55" filter="url(#b2)"/><ellipse cx="634" cy="322" rx="5" ry="8" fill-opacity="0.25" filter="url(#b3)"/><ellipse cx="598" cy="298" rx="6" ry="10" fill-opacity="0.3" filter="url(#b3)"/><ellipse cx="607" cy="330" rx="8" ry="9" fill-opacity="0.35" filter="url(#b3)"/><path d="M603,316 L612.5,316 L611,336 L604.5,336 Z" fill-opacity="0.5" filter="url(#b2)"/><path d="M593,293 Q593.5,289.3 597.5,289.3 L614,289.3 L615.6,292.7 L614.5,309.7 L612,321 L607.5,324 L603.5,317 L598.5,308 L594,298 Z" fill-opacity="1" filter="url(#b1)"/></g>
<rect x="571" y="232.5" width="106.20000000000005" height="104.5" fill="none" stroke="#d8d8d8" stroke-width="1"/>
<path d="M570.0 337v1.5 M587.7 337v1.5 M605.3 337v1.5 M623.0 337v1.5 M640.7 337v1.5 M658.3 337v1.5 M676.0 337v1.5 M571 334.0h-1.5 M571 316.8h-1.5 M571 299.7h-1.5 M571 282.5h-1.5 M571 265.3h-1.5 M571 248.2h-1.5 M571 231.0h-1.5" stroke="#aaa" stroke-width="0.6" fill="none"/>
<text x="552" y="225.5" font-family="Liberation Sans, Arial, sans-serif" font-weight="bold" font-size="9" fill="#111">D<tspan font-size="7.5" font-weight="bold">1</tspan></text>
<text transform="translate(557.5 285) rotate(-90)" x="0" y="2.6" text-anchor="middle" font-family="Liberation Sans, Arial, sans-serif" font-size="7.3" fill="#383838">IL-4 - APC-H</text>
<text x="623.1" y="359" text-anchor="middle" font-family="Liberation Sans, Arial, sans-serif" font-size="7.1" fill="#383838">CD8 - PerCP-Cy5.5-H</text>
<text x="566.8" y="347.3" font-family="Liberation Sans, Arial, sans-serif" font-size="5.8" fill="#555">10<tspan font-size="3" dy="-2">0</tspan></text>
<text x="584.5" y="347.3" font-family="Liberation Sans, Arial, sans-serif" font-size="5.8" fill="#555">10<tspan font-size="3" dy="-2">1</tspan></text>
<text x="602.1" y="347.3" font-family="Liberation Sans, Arial, sans-serif" font-size="5.8" fill="#555">10<tspan font-size="3" dy="-2">2</tspan></text>
<text x="619.8" y="347.3" font-family="Liberation Sans, Arial, sans-serif" font-size="5.8" fill="#555">10<tspan font-size="3" dy="-2">3</tspan></text>
<text x="637.5" y="347.3" font-family="Liberation Sans, Arial, sans-serif" font-size="5.8" fill="#555">10<tspan font-size="3" dy="-2">4</tspan></text>
<text x="655.1" y="347.3" font-family="Liberation Sans, Arial, sans-serif" font-size="5.8" fill="#555">10<tspan font-size="3" dy="-2">5</tspan></text>
<text x="672.8" y="347.3" font-family="Liberation Sans, Arial, sans-serif" font-size="5.8" fill="#555">10<tspan font-size="3" dy="-2">6</tspan></text>
<text x="569.0" y="336.0" text-anchor="end" font-family="Liberation Sans, Arial, sans-serif" font-size="5.8" fill="#555">10<tspan font-size="3" dy="-2">0</tspan></text>
<text x="569.0" y="318.8" text-anchor="end" font-family="Liberation Sans, Arial, sans-serif" font-size="5.8" fill="#555">10<tspan font-size="3" dy="-2">1</tspan></text>
<text x="569.0" y="301.7" text-anchor="end" font-family="Liberation Sans, Arial, sans-serif" font-size="5.8" fill="#555">10<tspan font-size="3" dy="-2">2</tspan></text>
<text x="569.0" y="284.5" text-anchor="end" font-family="Liberation Sans, Arial, sans-serif" font-size="5.8" fill="#555">10<tspan font-size="3" dy="-2">3</tspan></text>
<text x="569.0" y="267.3" text-anchor="end" font-family="Liberation Sans, Arial, sans-serif" font-size="5.8" fill="#555">10<tspan font-size="3" dy="-2">4</tspan></text>
<text x="569.0" y="250.2" text-anchor="end" font-family="Liberation Sans, Arial, sans-serif" font-size="5.8" fill="#555">10<tspan font-size="3" dy="-2">5</tspan></text>
<text x="569.0" y="233.0" text-anchor="end" font-family="Liberation Sans, Arial, sans-serif" font-size="5.8" fill="#555">10<tspan font-size="3" dy="-2">6</tspan></text>
<g filter="url(#st8)"><ellipse cx="188" cy="499" rx="21" ry="20" fill-opacity="0.35" filter="url(#b4)"/><ellipse cx="190.4" cy="495.5" rx="11.5" ry="11.5" fill-opacity="0.92" filter="url(#b25)"/><ellipse cx="228" cy="499" rx="15" ry="14" fill-opacity="0.35" filter="url(#b4)"/><ellipse cx="228" cy="497" rx="10" ry="9.5" fill-opacity="0.8" filter="url(#b25)"/><ellipse cx="209" cy="498" rx="8" ry="8" fill-opacity="0.2" filter="url(#b3)"/></g>
<rect x="158.3" y="420" width="105.89999999999998" height="104.5" fill="none" stroke="#d8d8d8" stroke-width="1"/>
<path d="M157.3 524.5v1.5 M184.1 524.5v1.5 M211.0 524.5v1.5 M237.8 524.5v1.5 M158.3 443.0h-1.5 M158.3 481.5h-1.5 M158.3 518.7h-1.5" stroke="#aaa" stroke-width="0.6" fill="none"/>
<text x="139.2" y="426" font-family="Liberation Sans, Arial, sans-serif" font-weight="bold" font-size="9" fill="#111">A<tspan font-size="7.5" font-weight="bold">0</tspan></text>
<text transform="translate(143.5 472.5) rotate(-90)" x="0" y="2.6" text-anchor="middle" font-family="Liberation Sans, Arial, sans-serif" font-size="7.3" fill="#383838">IL-17A - R-PE-H</text>
<text x="210.25" y="544.7" text-anchor="middle" font-family="Liberation Sans, Arial, sans-serif" font-size="7.1" fill="#383838">CD8 - PerCP-Cy5.5-H</text>
<text x="154.1" y="533.3" font-family="Liberation Sans, Arial, sans-serif" font-size="5.8" fill="#555">10<tspan font-size="3" dy="-2">0</tspan></text>
<text x="180.9" y="533.3" font-family="Liberation Sans, Arial, sans-serif" font-size="5.8" fill="#555">10<tspan font-size="3" dy="-2">1</tspan></text>
<text x="207.8" y="533.3" font-family="Liberation Sans, Arial, sans-serif" font-size="5.8" fill="#555">10<tspan font-size="3" dy="-2">2</tspan></text>
<text x="234.6" y="533.3" font-family="Liberation Sans, Arial, sans-serif" font-size="5.8" fill="#555">10<tspan font-size="3" dy="-2">3</tspan></text>
<text x="156.3" y="445.0" text-anchor="end" font-family="Liberation Sans, Arial, sans-serif" font-size="5.8" fill="#555">10<tspan font-size="3" dy="-2">2</tspan></text>
<text x="156.3" y="483.5" text-anchor="end" font-family="Liberation Sans, Arial, sans-serif" font-size="5.8" fill="#555">10<tspan font-size="3" dy="-2">1</tspan></text>
<text x="156.3" y="520.7" text-anchor="end" font-family="Liberation Sans, Arial, sans-serif" font-size="5.8" fill="#555">10<tspan font-size="3" dy="-2">0</tspan></text>
<g filter="url(#st9)"><rect x="299" y="422" width="102" height="100" fill-opacity="0.07" filter="url(#b4)"/><ellipse cx="332.5" cy="440" rx="10" ry="20" fill-opacity="0.22" filter="url(#b3)"/><rect x="300" y="465" width="90" height="8" fill-opacity="0.1" filter="url(#b2)"/><rect x="299" y="464.5" width="78" height="3" fill-opacity="0.22" filter="url(#b1)"/><ellipse cx="318" cy="480" rx="8" ry="16" fill-opacity="0.2" filter="url(#b3)"/><ellipse cx="331" cy="506" rx="9" ry="14" fill-opacity="0.36" filter="url(#b3)"/><ellipse cx="372.5" cy="473" rx="12.5" ry="9.5" fill-opacity="0.6" filter="url(#b3)"/><ellipse cx="374" cy="471.5" rx="7" ry="5" fill-opacity="0.35" filter="url(#b2)"/><ellipse cx="374" cy="492" rx="10" ry="12" fill-opacity="0.25" filter="url(#b3)"/><ellipse cx="331" cy="478" rx="16" ry="18" fill-opacity="0.3" filter="url(#b4)"/><path d="M319.5,467 Q320,463.5 323,463.5 L339,463.5 L342.5,467 L342,475 L337,488 L331,497 L325.5,490 L322,480 Z" fill-opacity="0.95" filter="url(#b2)"/></g>
<rect x="297.2" y="420" width="105.80000000000001" height="104.29999999999995" fill="none" stroke="#d8d8d8" stroke-width="1"/>
<path d="M300,524H384" stroke="#999" stroke-width="1"/>
<path d="M295.0 524.3v1.5 M323.8 524.3v1.5 M350.0 524.3v1.5 M376.3 524.3v1.5 M297.2 421.0h-1.5 M297.2 446.0h-1.5 M297.2 472.5h-1.5 M297.2 496.0h-1.5 M297.2 522.5h-1.5" stroke="#aaa" stroke-width="0.6" fill="none"/>
<text x="278" y="426" font-family="Liberation Sans, Arial, sans-serif" font-weight="bold" font-size="9" fill="#111">A<tspan font-size="7.5" font-weight="bold">1</tspan></text>
<text transform="translate(282.5 475) rotate(-90)" x="0" y="2.6" text-anchor="middle" font-family="Liberation Sans, Arial, sans-serif" font-size="7.3" fill="#383838">IL-17A - R-PE-H</text>
<text x="349.1" y="544.7" text-anchor="middle" font-family="Liberation Sans, Arial, sans-serif" font-size="7.1" fill="#383838">CD8 - PerCP-Cy5.5-H</text>
<text x="291.8" y="533.3" font-family="Liberation Sans, Arial, sans-serif" font-size="5.8" fill="#555">10<tspan font-size="3" dy="-2">0</tspan></text>
<text x="320.6" y="533.3" font-family="Liberation Sans, Arial, sans-serif" font-size="5.8" fill="#555">10<tspan font-size="3" dy="-2">1</tspan></text>
<text x="346.8" y="533.3" font-family="Liberation Sans, Arial, sans-serif" font-size="5.8" fill="#555">10<tspan font-size="3" dy="-2">2</tspan></text>
<text x="373.1" y="533.3" font-family="Liberation Sans, Arial, sans-serif" font-size="5.8" fill="#555">10<tspan font-size="3" dy="-2">3</tspan></text>
<text x="295.2" y="423.0" text-anchor="end" font-family="Liberation Sans, Arial, sans-serif" font-size="5.8" fill="#555">10<tspan font-size="3" dy="-2">4</tspan></text>
<text x="295.2" y="448.0" text-anchor="end" font-family="Liberation Sans, Arial, sans-serif" font-size="5.8" fill="#555">10<tspan font-size="3" dy="-2">3</tspan></text>
<text x="295.2" y="474.5" text-anchor="end" font-family="Liberation Sans, Arial, sans-serif" font-size="5.8" fill="#555">10<tspan font-size="3" dy="-2">2</tspan></text>
<text x="295.2" y="498.0" text-anchor="end" font-family="Liberation Sans, Arial, sans-serif" font-size="5.8" fill="#555">10<tspan font-size="3" dy="-2">1</tspan></text>
<text x="295.2" y="524.5" text-anchor="end" font-family="Liberation Sans, Arial, sans-serif" font-size="5.8" fill="#555">10<tspan font-size="3" dy="-2">0</tspan></text>
<g filter="url(#st10)"><path d="M460,470 L509,470 L507,522 L465,522 Z" fill-opacity="0.14" filter="url(#b3)"/><path d="M478,481 L495,481 L498,497 L476,497 Z" fill-opacity="0.45" filter="url(#b3)"/><ellipse cx="470" cy="511" rx="6" ry="11" fill-opacity="0.68" filter="url(#b3)"/><ellipse cx="501.5" cy="512" rx="5" ry="11" fill-opacity="0.68" filter="url(#b3)"/><path d="M449,472 L462,471 L462,486 L452,480 Z" fill-opacity="0.2" filter="url(#b3)"/><rect x="477" y="470.5" width="19" height="12" fill-opacity="1" filter="url(#b2)"/><path d="M462,473 Q462,471 464,471 L479,471 L478.5,485 L476,497 L473,504 L469,503 L466,492 L462.5,481 Z" fill-opacity="1" filter="url(#b15)"/><path d="M494,471 L507,471 Q508,471 508,473 L507.5,496 L502,506 L499,503 L495.5,492 L494,476 Z" fill-opacity="1" filter="url(#b15)"/></g>
<rect x="435.2" y="420.5" width="106.30000000000001" height="104.79999999999995" fill="none" stroke="#d8d8d8" stroke-width="1"/>
<path d="M456.3,524.8H508.5" stroke="#777" stroke-width="1"/>
<path d="M432.5 525.3v1.5 M450.2 525.3v1.5 M467.9 525.3v1.5 M485.6 525.3v1.5 M503.4 525.3v1.5 M521.1 525.3v1.5 M538.8 525.3v1.5 M435.2 522.5h-1.5 M435.2 505.4h-1.5 M435.2 488.3h-1.5 M435.2 471.2h-1.5 M435.2 454.2h-1.5 M435.2 437.1h-1.5 M435.2 420.0h-1.5" stroke="#aaa" stroke-width="0.6" fill="none"/>
<text x="417" y="426" font-family="Liberation Sans, Arial, sans-serif" font-weight="bold" font-size="9" fill="#111">B<tspan font-size="7.5" font-weight="bold">0</tspan></text>
<text transform="translate(421.5 473.5) rotate(-90)" x="0" y="2.6" text-anchor="middle" font-family="Liberation Sans, Arial, sans-serif" font-size="7.3" fill="#383838">IL-17A - R-PE-H</text>
<text x="487.35" y="544.7" text-anchor="middle" font-family="Liberation Sans, Arial, sans-serif" font-size="7.1" fill="#383838">CD8 - PerCP-Cy5.5-H</text>
<text x="429.3" y="533.3" font-family="Liberation Sans, Arial, sans-serif" font-size="5.8" fill="#555">10<tspan font-size="3" dy="-2">0</tspan></text>
<text x="447.0" y="533.3" font-family="Liberation Sans, Arial, sans-serif" font-size="5.8" fill="#555">10<tspan font-size="3" dy="-2">1</tspan></text>
<text x="464.7" y="533.3" font-family="Liberation Sans, Arial, sans-serif" font-size="5.8" fill="#555">10<tspan font-size="3" dy="-2">2</tspan></text>
<text x="482.4" y="533.3" font-family="Liberation Sans, Arial, sans-serif" font-size="5.8" fill="#555">10<tspan font-size="3" dy="-2">3</tspan></text>
<text x="500.2" y="533.3" font-family="Liberation Sans, Arial, sans-serif" font-size="5.8" fill="#555">10<tspan font-size="3" dy="-2">4</tspan></text>
<text x="517.9" y="533.3" font-family="Liberation Sans, Arial, sans-serif" font-size="5.8" fill="#555">10<tspan font-size="3" dy="-2">5</tspan></text>
<text x="535.6" y="533.3" font-family="Liberation Sans, Arial, sans-serif" font-size="5.8" fill="#555">10<tspan font-size="3" dy="-2">6</tspan></text>
<text x="433.2" y="524.5" text-anchor="end" font-family="Liberation Sans, Arial, sans-serif" font-size="5.8" fill="#555">10<tspan font-size="3" dy="-2">0</tspan></text>
<text x="433.2" y="507.4" text-anchor="end" font-family="Liberation Sans, Arial, sans-serif" font-size="5.8" fill="#555">10<tspan font-size="3" dy="-2">1</tspan></text>
<text x="433.2" y="490.3" text-anchor="end" font-family="Liberation Sans, Arial, sans-serif" font-size="5.8" fill="#555">10<tspan font-size="3" dy="-2">2</tspan></text>
<text x="433.2" y="473.2" text-anchor="end" font-family="Liberation Sans, Arial, sans-serif" font-size="5.8" fill="#555">10<tspan font-size="3" dy="-2">3</tspan></text>
<text x="433.2" y="456.2" text-anchor="end" font-family="Liberation Sans, Arial, sans-serif" font-size="5.8" fill="#555">10<tspan font-size="3" dy="-2">4</tspan></text>
<text x="433.2" y="439.1" text-anchor="end" font-family="Liberation Sans, Arial, sans-serif" font-size="5.8" fill="#555">10<tspan font-size="3" dy="-2">5</tspan></text>
<text x="433.2" y="422.0" text-anchor="end" font-family="Liberation Sans, Arial, sans-serif" font-size="5.8" fill="#555">10<tspan font-size="3" dy="-2">6</tspan></text>
<g filter="url(#st11)"><ellipse cx="616" cy="455" rx="17" ry="14" fill-opacity="0.14" filter="url(#b4)"/><path d="M597,471 L645,471 L644,523 L602,523 Z" fill-opacity="0.14" filter="url(#b3)"/><path d="M618,471 L631,471 L633,490 L617,490 Z" fill-opacity="0.55" filter="url(#b2)"/><path d="M618,488 L634,488 L639,508 L614,508 Z" fill-opacity="0.12" filter="url(#b3)"/><ellipse cx="611.5" cy="515" rx="5" ry="10" fill-opacity="0.65" filter="url(#b3)"/><ellipse cx="640.5" cy="514" rx="4" ry="10" fill-opacity="0.6" filter="url(#b3)"/><path d="M598.7,471 L619.3,471 L618.8,480 L617.5,492 L615.5,503 L613,510 L609.5,506 L605,495 L600.5,484 Z" fill-opacity="1" filter="url(#b1)"/><path d="M630.5,471 L645.2,471 L645.2,497.7 L640.7,504.8 L637.3,501 L630.5,475 Z" fill-opacity="1" filter="url(#b1)"/></g>
<rect x="574.3" y="420.5" width="105.90000000000009" height="104.70000000000005" fill="none" stroke="#d8d8d8" stroke-width="1"/>
<path d="M597.6,524.8H645.2" stroke="#999" stroke-width="1"/>
<path d="M571.0 525.2v1.5 M588.7 525.2v1.5 M606.3 525.2v1.5 M624.0 525.2v1.5 M641.7 525.2v1.5 M659.4 525.2v1.5 M677.0 525.2v1.5 M574.3 522.5h-1.5 M574.3 505.4h-1.5 M574.3 488.3h-1.5 M574.3 471.2h-1.5 M574.3 454.2h-1.5 M574.3 437.1h-1.5 M574.3 420.0h-1.5" stroke="#aaa" stroke-width="0.6" fill="none"/>
<text x="556" y="426" font-family="Liberation Sans, Arial, sans-serif" font-weight="bold" font-size="9" fill="#111">B<tspan font-size="7.5" font-weight="bold">1</tspan></text>
<text transform="translate(560 473) rotate(-90)" x="0" y="2.6" text-anchor="middle" font-family="Liberation Sans, Arial, sans-serif" font-size="7.3" fill="#383838">IL-17A - R-PE-H</text>
<text x="626.25" y="544.7" text-anchor="middle" font-family="Liberation Sans, Arial, sans-serif" font-size="7.1" fill="#383838">CD8 - PerCP-Cy5.5-H</text>
<text x="567.8" y="533.3" font-family="Liberation Sans, Arial, sans-serif" font-size="5.8" fill="#555">10<tspan font-size="3" dy="-2">0</tspan></text>
<text x="585.5" y="533.3" font-family="Liberation Sans, Arial, sans-serif" font-size="5.8" fill="#555">10<tspan font-size="3" dy="-2">1</tspan></text>
<text x="603.1" y="533.3" font-family="Liberation Sans, Arial, sans-serif" font-size="5.8" fill="#555">10<tspan font-size="3" dy="-2">2</tspan></text>
<text x="620.8" y="533.3" font-family="Liberation Sans, Arial, sans-serif" font-size="5.8" fill="#555">10<tspan font-size="3" dy="-2">3</tspan></text>
<text x="638.5" y="533.3" font-family="Liberation Sans, Arial, sans-serif" font-size="5.8" fill="#555">10<tspan font-size="3" dy="-2">4</tspan></text>
<text x="656.1" y="533.3" font-family="Liberation Sans, Arial, sans-serif" font-size="5.8" fill="#555">10<tspan font-size="3" dy="-2">5</tspan></text>
<text x="673.8" y="533.3" font-family="Liberation Sans, Arial, sans-serif" font-size="5.8" fill="#555">10<tspan font-size="3" dy="-2">6</tspan></text>
<text x="572.3" y="524.5" text-anchor="end" font-family="Liberation Sans, Arial, sans-serif" font-size="5.8" fill="#555">10<tspan font-size="3" dy="-2">0</tspan></text>
<text x="572.3" y="507.4" text-anchor="end" font-family="Liberation Sans, Arial, sans-serif" font-size="5.8" fill="#555">10<tspan font-size="3" dy="-2">1</tspan></text>
<text x="572.3" y="490.3" text-anchor="end" font-family="Liberation Sans, Arial, sans-serif" font-size="5.8" fill="#555">10<tspan font-size="3" dy="-2">2</tspan></text>
<text x="572.3" y="473.2" text-anchor="end" font-family="Liberation Sans, Arial, sans-serif" font-size="5.8" fill="#555">10<tspan font-size="3" dy="-2">3</tspan></text>
<text x="572.3" y="456.2" text-anchor="end" font-family="Liberation Sans, Arial, sans-serif" font-size="5.8" fill="#555">10<tspan font-size="3" dy="-2">4</tspan></text>
<text x="572.3" y="439.1" text-anchor="end" font-family="Liberation Sans, Arial, sans-serif" font-size="5.8" fill="#555">10<tspan font-size="3" dy="-2">5</tspan></text>
<text x="572.3" y="422.0" text-anchor="end" font-family="Liberation Sans, Arial, sans-serif" font-size="5.8" fill="#555">10<tspan font-size="3" dy="-2">6</tspan></text>
</svg></body></html>
